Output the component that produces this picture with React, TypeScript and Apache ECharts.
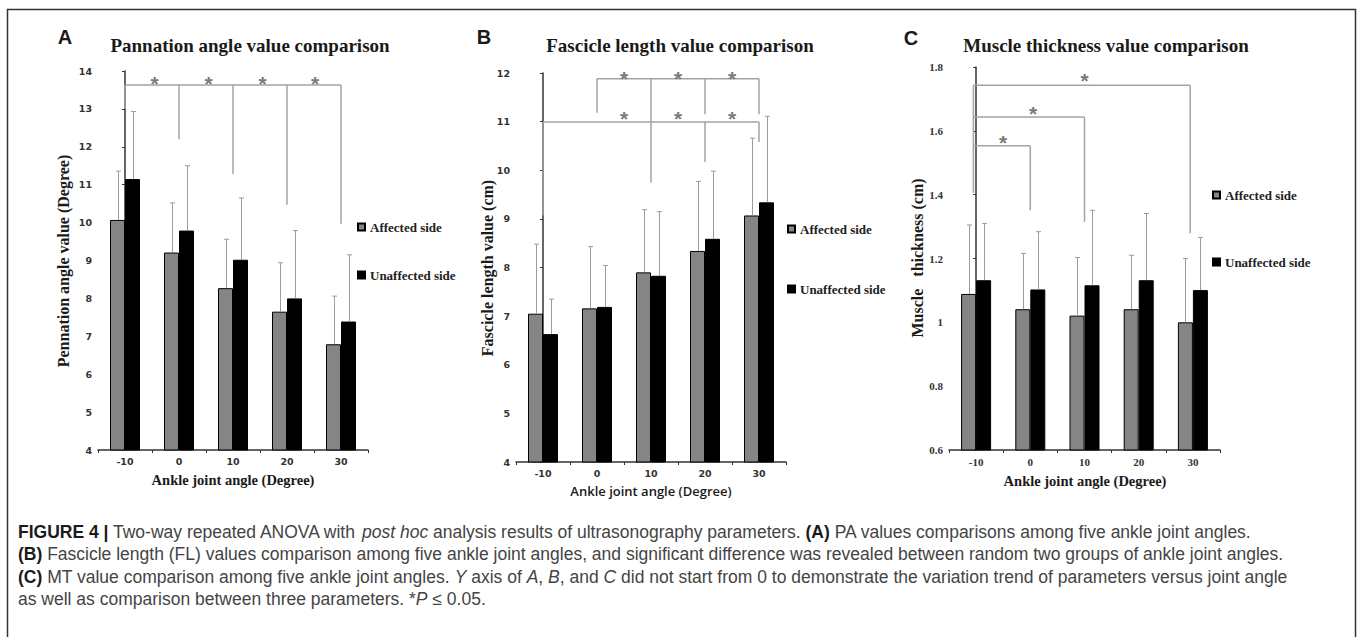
import React, { useEffect, useRef } from 'react';
import * as echarts from 'echarts';

// ---------- data ----------
const categories = ['-10', '0', '10', '20', '30'];

// Panel A: pennation angle (degree)
const paAffected = [10.07, 9.21, 8.27, 7.65, 6.79];
const paUnaffected = [11.15, 9.79, 9.02, 8.0, 7.39];
const paAffectedUpper = [11.36, 10.52, 9.56, 8.94, 8.06];
const paUnaffectedUpper = [12.93, 11.5, 10.65, 9.79, 9.15];
// significance bracket segments [x1, y1, x2, y2] (x = category index)
const paBrackets = [
  [0, 13.63, 4, 13.63],
  [0, 13.63, 0, 13.0],
  [1, 13.63, 1, 12.2],
  [2, 13.63, 2, 11.28],
  [3, 13.63, 3, 10.47],
  [4, 13.63, 4, 9.97],
];
const paStars = [[0.55, 13.79], [1.55, 13.79], [2.55, 13.79], [3.52, 13.79]];

// Panel B: fascicle length (cm)
const flAffected = [7.05, 7.16, 7.9, 8.34, 9.07];
const flUnaffected = [6.63, 7.19, 7.83, 8.59, 9.34];
const flAffectedUpper = [8.48, 8.43, 9.19, 9.77, 10.66];
const flUnaffectedUpper = [7.35, 8.04, 9.15, 9.98, 11.11];
const flBrackets = [
  [1, 11.88, 4, 11.88],
  [1, 11.88, 1, 11.18],
  [2, 11.88, 2, 9.75],
  [3, 11.88, 3, 11.15],
  [4, 11.88, 4, 11.15],
  [0, 10.99, 4, 10.99],
  [0, 10.99, 0, 9.07],
  [3, 10.99, 3, 10.17],
  [4, 10.99, 4, 10.58],
];
const flStars = [[1.5, 12.0], [2.5, 12.0], [3.5, 12.0], [1.5, 11.17], [2.5, 11.17], [3.5, 11.17]];

// Panel C: muscle thickness (cm)
const mtAffected = [1.089, 1.041, 1.021, 1.041, 1.0];
const mtUnaffected = [1.132, 1.103, 1.116, 1.132, 1.101];
const mtAffectedUpper = [1.305, 1.216, 1.203, 1.21, 1.2];
const mtUnaffectedUpper = [1.31, 1.284, 1.351, 1.341, 1.266];
const mtBrackets = [
  [-0.05, 1.743, 3.95, 1.743],
  [-0.05, 1.743, -0.05, 1.406],
  [3.95, 1.743, 3.95, 1.279],
  [-0.05, 1.643, 2, 1.643],
  [2, 1.643, 2, 1.315],
  [-0.05, 1.553, 1, 1.553],
  [1, 1.553, 1, 1.351],
];
const mtStars = [[2, 1.774], [1.05, 1.671], [0.5, 1.578]];

const legendNames = ['Affected side', 'Unaffected side'];

const titles = [
  'Pannation angle value comparison',
  'Fascicle length value comparison',
  'Muscle thickness value comparison',
];
const yNames = [
  'Pennation angle value (Degree)',
  'Fascicle length value (cm)',
  'Muscle\u00a0\u00a0 thickness (cm)',
];
const xName = 'Ankle joint angle (Degree)';

const captionLines = [
  '{b|FIGURE 4 |} Two-way repeated ANOVA with {i|post hoc} analysis results of ultrasonography parameters. {b|(A)} PA values comparisons among five ankle joint angles.',
  '{b|(B)} Fascicle length (FL) values comparison among five ankle joint angles, and significant difference was revealed between random two groups of ankle joint angles.',
  '{b|(C)} MT value comparison among five ankle joint angles. {i|Y} axis of {i|A}, {i|B}, and {i|C} did not start from 0 to demonstrate the variation trend of parameters versus joint angle',
  'as well as comparison between three parameters. *{i|P} \u2264 0.05.',
];

// ---------- styles ----------
const SERIF = '"Liberation Serif", "Times New Roman", serif';
const SANS = '"Liberation Sans", Arial, sans-serif';
const VERD = '"DejaVu Sans", Verdana, sans-serif';
const GRAY_BAR = '#858585';
const ERR = '#9c9c9c';
const BRACKET = '#a3a3a3';
const STAR = '#7a7a7a';
const AXIS = '#333';
const BAR_W = 15;
const CAP_SIZE = 17.5;

function buildOption() {
  const grids = [
    { left: 98, top: 71, width: 270, height: 379 },
    { left: 516, top: 73, width: 270, height: 389 },
    { left: 949, top: 67, width: 271, height: 383 },
  ];

  const catAxis = (gridIndex: number, family: string, size: number) => ({
    type: 'category',
    gridIndex,
    data: categories,
    axisLine: { show: true, lineStyle: { color: AXIS, width: 1.5 } },
    axisTick: { show: true, length: 3, lineStyle: { color: AXIS } },
    axisLabel: { fontFamily: family, fontWeight: 'bold', fontSize: size, color: '#333', margin: 6 },
    splitLine: { show: false },
  });
  const valX = (gridIndex: number) => ({ type: 'value', gridIndex, min: -0.5, max: 4.5, show: false });
  const yAx = (gridIndex: number, min: number, max: number, interval: number, family: string, size: number) => ({
    type: 'value',
    gridIndex,
    min,
    max,
    interval,
    axisLine: { show: true, lineStyle: { color: AXIS, width: 1.5 } },
    axisTick: { show: true, length: 3, lineStyle: { color: AXIS } },
    axisLabel: { fontFamily: family, fontWeight: 'bold', fontSize: size, color: '#333', margin: 6 },
    splitLine: { show: false },
  });

  const bar = (name: string, gi: number, data: number[], color: string) => ({
    type: 'bar',
    name,
    xAxisIndex: gi,
    yAxisIndex: gi,
    data,
    barWidth: BAR_W,
    barGap: '0%',
    itemStyle: { color, borderColor: '#000', borderWidth: 1 },
    z: 2,
  });

  const errors = (gi: number, means: number[], uppers: number[], side: number) => ({
    type: 'custom',
    xAxisIndex: gi,
    yAxisIndex: gi,
    silent: true,
    z: 3,
    data: means.map((m, i) => [i, uppers[i], m]),
    encode: { x: 0, y: 1 },
    renderItem: (params: any, api: any) => {
      const top = api.coord([api.value(0), api.value(1)]);
      const base = api.coord([api.value(0), api.value(2)]);
      const x = Math.round(top[0] + (side * BAR_W) / 2) + 0.5;
      return {
        type: 'group',
        children: [
          { type: 'line', shape: { x1: x, y1: base[1], x2: x, y2: top[1] }, style: { stroke: ERR, lineWidth: 1 } },
          { type: 'line', shape: { x1: x - 2.5, y1: top[1], x2: x + 2.5, y2: top[1] }, style: { stroke: ERR, lineWidth: 1 } },
        ],
      };
    },
  });

  const brackets = (gi: number, segs: number[][]) => ({
    type: 'custom',
    xAxisIndex: 3 + gi,
    yAxisIndex: gi,
    silent: true,
    z: 4,
    data: segs,
    encode: { x: [0, 2], y: [1, 3] },
    renderItem: (params: any, api: any) => {
      const a = api.coord([api.value(0), api.value(1)]);
      const b = api.coord([api.value(2), api.value(3)]);
      return {
        type: 'line',
        shape: { x1: a[0], y1: a[1], x2: b[0], y2: b[1] },
        style: { stroke: BRACKET, lineWidth: 1.5 },
      };
    },
  });

  const stars = (gi: number, pts: number[][]) => ({
    type: 'custom',
    xAxisIndex: 3 + gi,
    yAxisIndex: gi,
    silent: true,
    z: 4,
    data: pts,
    encode: { x: 0, y: 1 },
    renderItem: (params: any, api: any) => {
      const p = api.coord([api.value(0), api.value(1)]);
      return {
        type: 'text',
        x: p[0],
        y: p[1] + 5,
        style: {
          text: '*',
          fill: STAR,
          font: 'bold 21px ' + SANS,
          align: 'center',
          verticalAlign: 'middle',
          textAlign: 'center',
          textVerticalAlign: 'middle',
        },
      };
    },
  });

  const legend = (left: number, top: number, itemGap: number) => ({
    orient: 'vertical',
    left,
    top,
    padding: 0,
    itemGap,
    itemWidth: 7,
    itemHeight: 7,
    icon: 'rect',
    selectedMode: false,
    data: legendNames,
    textStyle: { fontFamily: SERIF, fontWeight: 'bold', fontSize: 13, color: '#222', lineHeight: 14 },
  });

  const txt = (x: number, y: number, text: string, font: string, extra: any = {}) => ({
    type: 'text',
    x,
    y,
    silent: true,
    ...extra,
    style: {
      text,
      font,
      fill: '#1a1a1a',
      align: 'center',
      verticalAlign: 'middle',
      textAlign: 'center',
      textVerticalAlign: 'middle',
    },
  });

  const graphic: any[] = [
    {
      type: 'rect',
      silent: true,
      shape: { x: 7.5, y: 9.5, width: 1348, height: 660 },
      style: { fill: 'none', stroke: '#333', lineWidth: 1.5 },
    },
    txt(65, 37, 'A', 'bold 20px ' + SANS),
    txt(484, 37, 'B', 'bold 20px ' + SANS),
    txt(911, 38, 'C', 'bold 20px ' + SANS),
    txt(250, 45, titles[0], 'bold 19px ' + SERIF),
    txt(680, 45, titles[1], 'bold 19px ' + SERIF),
    txt(1106, 45, titles[2], 'bold 19px ' + SERIF),
    txt(63, 261, yNames[0], 'bold 16px ' + SERIF, { rotation: Math.PI / 2 }),
    txt(487, 268, yNames[1], 'bold 16px ' + SERIF, { rotation: Math.PI / 2 }),
    txt(917, 258, yNames[2], 'bold 16px ' + SERIF, { rotation: Math.PI / 2 }),
    txt(233, 480, xName, 'bold 14.5px ' + SERIF),
    txt(651, 491, xName, '600 13px "Open Sans", ' + SANS),
    txt(1085, 481, xName, 'bold 14.5px ' + SERIF),
  ];

  captionLines.forEach((line, i) => {
    graphic.push({
      type: 'text',
      x: 18,
      y: 532 + i * 22.3,
      silent: true,
      style: {
        text: line,
        fontSize: CAP_SIZE,
        fontFamily: SANS,
        fill: '#444',
        align: 'left',
        verticalAlign: 'middle',
        textAlign: 'left',
        textVerticalAlign: 'middle',
        rich: {
          b: { fontWeight: 'bold', fill: '#1a1a1a', fontSize: CAP_SIZE, fontFamily: SANS },
          i: { fontStyle: 'italic', fill: '#444', fontSize: CAP_SIZE, fontFamily: SANS },
        },
      },
    });
  });

  return {
    animation: false,
    backgroundColor: '#ffffff',
    grid: grids.map((g) => ({ ...g, containLabel: false, outerBoundsMode: 'none' })),
    xAxis: [
      catAxis(0, VERD, 9.5),
      catAxis(1, VERD, 9.5),
      catAxis(2, SERIF, 11),
      valX(0),
      valX(1),
      valX(2),
    ],
    yAxis: [
      yAx(0, 4, 14, 1, VERD, 9.5),
      yAx(1, 4, 12, 1, VERD, 9.5),
      yAx(2, 0.6, 1.8, 0.2, SERIF, 11),
    ],
    legend: [legend(357, 220, 34), legend(787, 222, 46), legend(1212, 188, 53)],
    series: [
      bar('Affected side', 0, paAffected, GRAY_BAR),
      bar('Unaffected side', 0, paUnaffected, '#000'),
      errors(0, paAffected, paAffectedUpper, -1),
      errors(0, paUnaffected, paUnaffectedUpper, 1),
      brackets(0, paBrackets),
      stars(0, paStars),

      bar('Affected side', 1, flAffected, GRAY_BAR),
      bar('Unaffected side', 1, flUnaffected, '#000'),
      errors(1, flAffected, flAffectedUpper, -1),
      errors(1, flUnaffected, flUnaffectedUpper, 1),
      brackets(1, flBrackets),
      stars(1, flStars),

      bar('Affected side', 2, mtAffected, GRAY_BAR),
      bar('Unaffected side', 2, mtUnaffected, '#000'),
      errors(2, mtAffected, mtAffectedUpper, -1),
      errors(2, mtUnaffected, mtUnaffectedUpper, 1),
      brackets(2, mtBrackets),
      stars(2, mtStars),
    ],
    graphic,
  };
}

export default function App() {
  const ref = useRef<HTMLDivElement>(null);
  useEffect(() => {
    if (!ref.current) return;
    const chart = echarts.init(ref.current, null, { renderer: 'svg' });
    chart.setOption(buildOption() as any);
    return () => chart.dispose();
  }, []);
  return (
    <div
      ref={ref}
      style={{ position: 'fixed', left: 0, top: 0, width: 1358, height: 637, background: '#fff' }}
    />
  );
}
